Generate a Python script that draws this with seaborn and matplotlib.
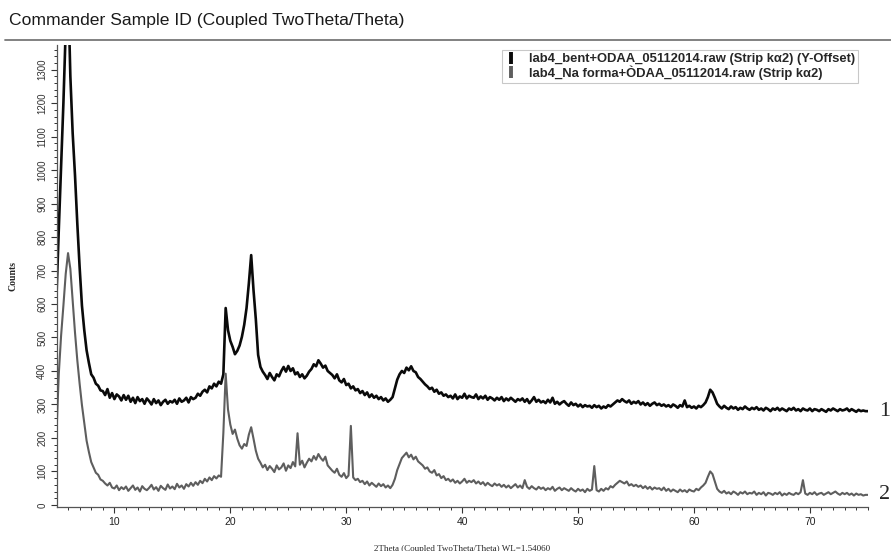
import numpy as np
import pandas as pd
import matplotlib
matplotlib.use("Agg")
import matplotlib.pyplot as plt
from matplotlib.lines import Line2D
from matplotlib.ticker import MultipleLocator
import seaborn as sns

# Scan grid: 2theta from 5.0 to 75.0 deg in 0.2 deg steps
TWO_THETA_START = 5.0
TWO_THETA_STEP = 0.2
TWO_THETA_END = 75.0

# lab4_bent+ODAA (counts, before the display offset)
COUNTS_BENT = [
    370, 570, 760, 950, 1170, 1310, 1030, 860, 735, 590,   # 5.0
    460, 345, 272, 212, 174, 140, 130, 112, 106, 92,       # 7.0
    90, 78, 96, 70, 84, 66, 80, 74, 62, 78,                # 9.0
    64, 76, 58, 70, 54, 72, 60, 66, 52, 68,                # 11.0
    60, 50, 66, 54, 62, 48, 58, 64, 52, 60,                # 13.0
    56, 64, 52, 68, 58, 62, 70, 56, 72, 66,                # 15.0
    70, 82, 76, 88, 94, 86, 104, 98, 112, 104,             # 17.0
    118, 112, 140, 338, 272, 240, 222, 200, 210, 226,      # 19.0
    252, 288, 338, 412, 496, 392, 305, 198, 162, 148,      # 21.0
    138, 126, 144, 132, 122, 140, 134, 150, 162, 148,      # 23.0
    165, 150, 158, 140, 146, 132, 140, 128, 136, 148,      # 25.0
    156, 170, 164, 182, 172, 160, 166, 150, 144, 138,      # 27.0
    128, 140, 122, 116, 126, 108, 112, 98, 104, 92,        # 29.0
    96, 84, 90, 78, 86, 72, 80, 70, 76, 66,                # 31.0
    72, 62, 68, 58, 64, 72, 98, 124, 140, 150,             # 33.0
    144, 160, 152, 164, 150, 146, 132, 126, 118, 110,      # 35.0
    104, 96, 100, 88, 94, 82, 86, 76, 80, 72,              # 37.0
    76, 68, 80, 66, 74, 70, 82, 68, 76, 72,                # 39.0
    70, 80, 66, 74, 68, 76, 64, 72, 68, 62,                # 41.0
    70, 64, 72, 60, 68, 62, 70, 64, 58, 66,                # 43.0
    62, 68, 58, 66, 54, 62, 72, 58, 64, 56,                # 45.0
    60, 54, 64, 56, 70, 52, 58, 50, 56, 60,                # 47.0
    52, 46, 56, 48, 52, 44, 50, 42, 48, 44,                # 49.0
    46, 40, 48, 42, 46, 38, 44, 40, 48, 44,                # 51.0
    50, 56, 62, 58, 66, 60, 56, 62, 52, 58,                # 53.0
    54, 60, 50, 56, 48, 54, 46, 52, 56, 48,                # 55.0
    52, 46, 50, 44, 48, 42, 50, 46, 40, 48,                # 57.0
    44, 62, 42, 46, 40, 44, 38, 46, 42, 48,                # 59.0
    56, 72, 94, 86, 70, 52, 44, 38, 46, 40,                # 61.0
    36, 44, 38, 42, 34, 40, 36, 44, 38, 34,                # 63.0
    40, 36, 42, 34, 38, 32, 40, 36, 30, 38,                # 65.0
    34, 40, 32, 38, 34, 30, 38, 34, 40, 32,                # 67.0
    36, 30, 38, 34, 32, 38, 30, 36, 34, 30,                # 69.0
    36, 32, 28, 36, 32, 38, 34, 30, 36, 32,                # 71.0
    34, 38, 30, 36, 32, 28, 34, 30, 32, 30,                # 73.0
    30,                                                    # 75.0
]

# lab4_Na forma+ODAA (counts)
COUNTS_NA = [
    210, 390, 505, 595, 690, 752, 705, 612, 515, 432,      # 5.0
    362, 298, 245, 192, 158, 128, 112, 96, 90, 76,         # 7.0
    72, 64, 58, 66, 52, 49, 58, 44, 53, 47,                # 9.0
    55, 42, 50, 58, 45, 52, 40, 56, 48, 44,                # 11.0
    51, 60, 46, 53, 42, 57, 50, 45, 61, 49,                # 13.0
    55, 47, 63, 52, 58, 48, 62, 55, 66, 57,                # 15.0
    68, 60, 72, 65, 78, 70, 82, 74, 86, 79,                # 17.0
    88, 84, 215, 392, 285, 240, 212, 225, 198, 178,        # 19.0
    168, 182, 176, 210, 232, 198, 162, 138, 126, 112,      # 21.0
    120, 104, 116, 108, 98, 118, 106, 112, 124, 102,       # 23.0
    118, 110, 128, 115, 214, 120, 132, 112, 126, 138,      # 25.0
    130, 146, 135, 152, 140, 132, 144, 118, 110, 102,      # 27.0
    96, 108, 90, 84, 95, 80, 88, 236, 82, 74,              # 29.0
    78, 68, 72, 62, 70, 58, 66, 60, 54, 64,                # 31.0
    56, 62, 52, 58, 50, 60, 78, 104, 122, 140,             # 33.0
    148, 156, 142, 150, 136, 144, 130, 124, 118, 108,      # 35.0
    112, 100, 96, 104, 88, 92, 80, 86, 74, 78,             # 37.0
    70, 76, 66, 72, 64, 70, 78, 66, 72, 68,                # 39.0
    74, 64, 70, 62, 68, 58, 66, 60, 56, 64,                # 41.0
    58, 62, 54, 60, 52, 58, 50, 56, 62, 52,                # 43.0
    58, 50, 74, 54, 48, 56, 50, 46, 54, 48,                # 45.0
    52, 44, 50, 46, 54, 42, 48, 52, 44, 50,                # 47.0
    46, 42, 50, 44, 40, 48, 42, 46, 38, 48,                # 49.0
    42, 46, 116, 44, 40, 48, 42, 50, 46, 56,               # 51.0
    52, 60, 66, 72, 68, 64, 70, 58, 62, 56,                # 53.0
    60, 54, 58, 50, 56, 48, 54, 46, 52, 48,                # 55.0
    50, 44, 52, 42, 48, 40, 46, 42, 38, 46,                # 57.0
    40, 44, 38, 46, 42, 40, 48, 44, 52, 58,                # 59.0
    66, 84, 100, 92, 70, 48, 40, 36, 42, 34,               # 61.0
    38, 32, 40, 36, 30, 38, 34, 40, 32, 36,                # 63.0
    34, 40, 30, 36, 32, 38, 28, 36, 34, 30,                # 65.0
    36, 32, 38, 28, 34, 30, 36, 32, 30, 36,                # 67.0
    32, 38, 74, 34, 30, 36, 32, 38, 30, 34,                # 69.0
    36, 30, 34, 38, 32, 36, 40, 34, 30, 36,                # 71.0
    32, 36, 30, 34, 28, 34, 30, 32, 28, 30,                # 73.0
    30,                                                    # 75.0
]

# Vertical offset applied to the bent sample for display
Y_OFFSET = 250

SERIES_NAMES = [
    "lab4_bent+ODAA_05112014.raw (Strip k\u03b12) (Y-Offset)",
    "lab4_Na forma+\u00d2DAA_05112014.raw (Strip k\u03b12)",
]
SERIES_TAGS = ["1", "2"]
X_TICKS = [10, 20, 30, 40, 50, 60, 70]
Y_TICKS = list(range(0, 1400, 100))

two_theta = np.round(np.arange(TWO_THETA_START, TWO_THETA_END + TWO_THETA_STEP / 2,
                               TWO_THETA_STEP), 2)

df = pd.concat([
    pd.DataFrame({"2theta": two_theta,
                  "counts": np.asarray(COUNTS_BENT, float) + Y_OFFSET,
                  "sample": SERIES_NAMES[0]}),
    pd.DataFrame({"2theta": two_theta,
                  "counts": np.asarray(COUNTS_NA, float),
                  "sample": SERIES_NAMES[1]}),
], ignore_index=True)

sns.set_theme(style="ticks")
plt.rcParams["font.family"] = ["Liberation Sans", "DejaVu Sans"]

colors = {SERIES_NAMES[0]: "#0a0a0a", SERIES_NAMES[1]: "#5e5e5e"}

fig = plt.figure(figsize=(8.91, 5.51), dpi=100)
ax = fig.add_axes([0.064, 0.080, 0.910, 0.838])

sns.lineplot(data=df, x="2theta", y="counts", hue="sample", palette=colors,
             size="sample", sizes={SERIES_NAMES[0]: 1.9, SERIES_NAMES[1]: 1.5},
             estimator=None, sort=False, legend=False, ax=ax)

ax.set_xlim(5.05, 75.0)
ax.set_ylim(-6, 1373)
ax.xaxis.set_minor_locator(MultipleLocator(1))
ax.yaxis.set_minor_locator(MultipleLocator(20))
ax.set_xticks(X_TICKS)
ax.set_xticklabels([str(t) for t in X_TICKS], fontsize=7.5, color="#222222")
ax.set_yticks(Y_TICKS)
ax.set_yticklabels([str(t) for t in Y_TICKS], fontsize=7, rotation=90,
                   va="center", color="#333333")
ax.tick_params(axis="both", which="major", length=4, width=0.8, color="#333333", pad=3)
ax.tick_params(axis="both", which="minor", length=2.5, width=0.7, color="#333333")

for side in ("top", "right"):
    ax.spines[side].set_visible(False)
for side in ("left", "bottom"):
    ax.spines[side].set_color("#555555")
    ax.spines[side].set_linewidth(0.9)

ax.set_xlabel("2Theta (Coupled TwoTheta/Theta) WL=1.54060",
              family=["Liberation Serif", "DejaVu Serif"], fontsize=6.5, labelpad=13)
ax.set_ylabel("Counts", family=["Liberation Serif", "DejaVu Serif"],
              fontsize=7, fontweight="bold", labelpad=14)

handles = [Line2D([], [], linestyle="none", marker="|", markersize=9,
                  markeredgewidth=2.8, color=colors[n]) for n in SERIES_NAMES]
leg = ax.legend(handles, SERIES_NAMES, loc="upper right",
                bbox_to_anchor=(0.988, 0.990), frameon=True, fancybox=False,
                prop={"weight": "bold", "size": 9.4}, handlelength=0.9,
                handletextpad=0.9, borderpad=0.25, labelspacing=0.02,
                borderaxespad=0)
leg.get_frame().set_edgecolor("#bbbbbb")
leg.get_frame().set_linewidth(0.8)

# Sample tags to the right of the traces
for tag, name in zip(SERIES_TAGS, SERIES_NAMES):
    sub = df[df["sample"] == name]
    ax.annotate(tag, xy=(sub["2theta"].iloc[-1], sub["counts"].iloc[-1]),
                xytext=(8, 0), textcoords="offset points", va="center", ha="left",
                fontsize=16, family=["Liberation Serif", "DejaVu Serif"],
                annotation_clip=False)

fig.text(0.010, 0.962, "Commander Sample ID (Coupled TwoTheta/Theta)",
         fontsize=12.6, color="#1a1a1a", ha="left", va="center")
fig.add_artist(Line2D([0.006, 1.0], [0.928, 0.928], transform=fig.transFigure,
                      color="#777777", linewidth=1.3))

fig.savefig("out.png", dpi=100)
